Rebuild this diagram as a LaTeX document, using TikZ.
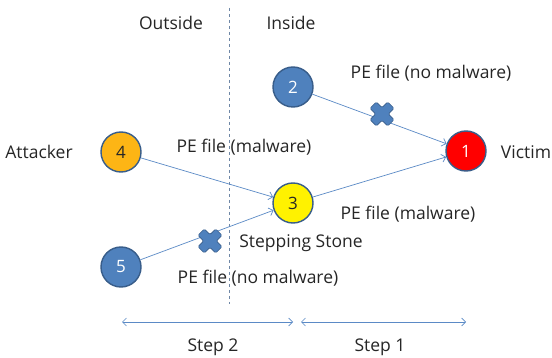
\documentclass[tikz,border=0pt]{standalone}
\usepackage{fontspec}
\setmainfont{Open Sans}
\usetikzlibrary{arrows.meta}
\definecolor{nodeblue}{HTML}{4F81BD}
\definecolor{rimblue}{HTML}{385D8A}
\definecolor{linkblue}{HTML}{5B8AC6}
\definecolor{nodeorange}{HTML}{FDB515}
\definecolor{textgray}{HTML}{262626}
\definecolor{dashgray}{HTML}{6F87A6}
\tikzset{
  host/.style={circle, draw=rimblue, line width=1.4pt, minimum size=40pt, inner sep=0pt, font=\fontsize{17}{17}\selectfont},
  lbl/.style={font=\fontsize{17.5}{18}\selectfont, text=textgray, inner sep=0pt},
  flow/.style={draw=linkblue, line width=0.7pt, -{Straight Barb[length=4pt,width=8pt]}},
  span/.style={draw=linkblue, line width=0.7pt, {Straight Barb[length=4pt,width=8pt]}-{Straight Barb[length=4pt,width=8pt]}},
  blockmark/.pic={
    \begin{scope}[rotate=45]
      \filldraw[fill=nodeblue, draw=rimblue, line width=0.6pt, rounded corners=1.2pt]
        (4.5,4.5) -- (4.5,12.5) -- (-4.5,12.5) -- (-4.5,4.5) -- (-12.5,4.5) -- (-12.5,-4.5)
        -- (-4.5,-4.5) -- (-4.5,-12.5) -- (4.5,-12.5) -- (4.5,-4.5) -- (12.5,-4.5) -- (12.5,4.5) -- cycle;
    \end{scope}
  }
}
\begin{document}
\begin{tikzpicture}[x=1pt, y=-1pt]
  \useasboundingbox[fill=white] (0,0) rectangle (552,358);

  % boundary between the two zones
  \draw[dashgray, line width=0.7pt, dash pattern=on 3.5pt off 2.5pt] (229,8) -- (229,304);
  \node[lbl] (outside) at (171,23) {Outside};
  \node[lbl] (inside) at (291,23) {Inside};

  % hosts
  \node[host, fill=red, text=white] (n1) at (466,151) {1};
  \node[host, fill=nodeblue, text=white] (n2) at (293,87) {2};
  \node[host, fill=yellow, text=textgray] (n3) at (293,203) {3};
  \node[host, fill=nodeorange, text=textgray] (n4) at (121,152) {4};
  \node[host, fill=nodeblue, text=white] (n5) at (121,267) {5};

  % file transfers
  \draw[flow] (n2) -- (n1);
  \draw[flow] (n3) -- (n1);
  \draw[flow] (n4) -- (n3);
  \draw[flow] (n5) -- (n3);

  % blocked transfers
  \coordinate (x21) at (382,114);
  \coordinate (x53) at (210,241);
  \pic at (x21) {blockmark};
  \pic at (x53) {blockmark};

  % labels
  \node[lbl] (attacker) at (39,152) {Attacker};
  \node[lbl] (victim) at (526,152) {Victim};
  \node[lbl] (pe21) at (431,73) {PE file (no malware)};
  \node[lbl] (pe43) at (244,147) {PE file (malware)};
  \node[lbl] (pe31) at (408,214) {PE file (malware)};
  \node[lbl] (stone) at (301,243) {Stepping Stone};
  \node[lbl] (pe53) at (258,278) {PE file (no malware)};

  % steps
  \coordinate (s2a) at (122,322);
  \coordinate (s2b) at (293,322);
  \coordinate (s1a) at (301,322);
  \coordinate (s1b) at (466,322);
  \draw[span] (s2a) -- (s2b);
  \draw[span] (s1a) -- (s1b);
  \node[lbl] (step2) at (213,347) {Step 2};
  \node[lbl] (step1) at (380,347) {Step 1};
\end{tikzpicture}
\end{document}
